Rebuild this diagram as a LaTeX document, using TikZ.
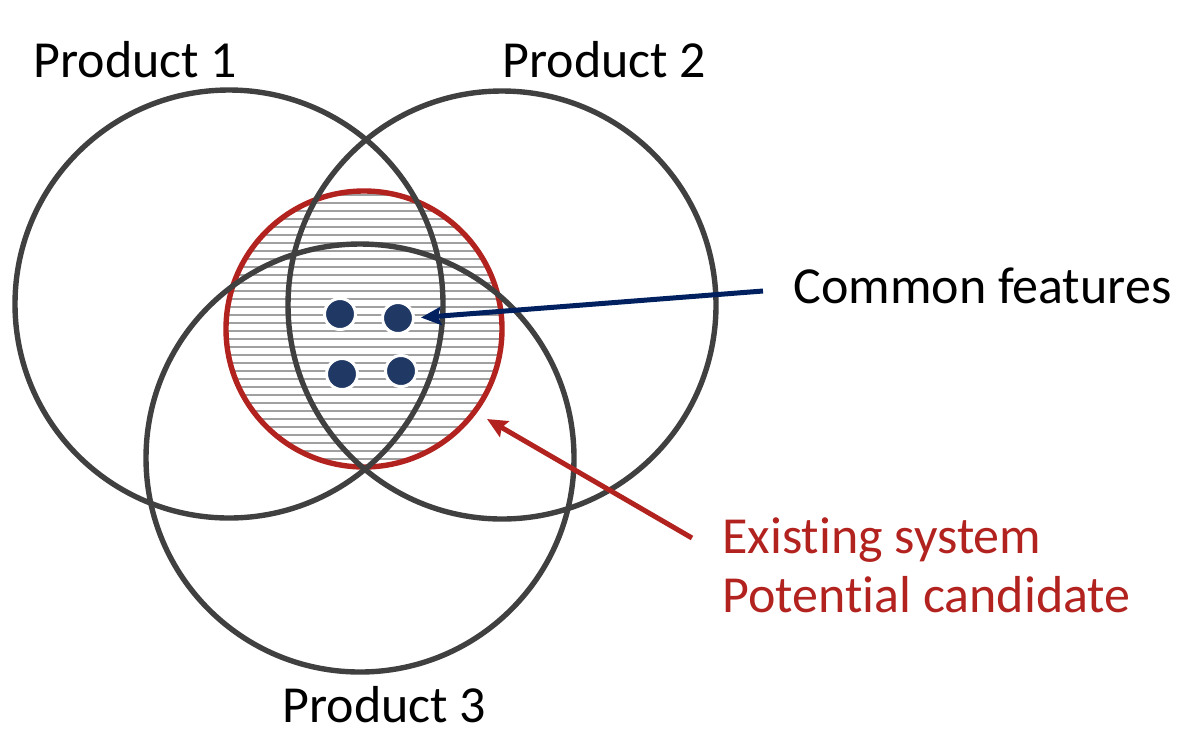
\documentclass[tikz,border=0pt]{standalone}
\usepackage{fontspec}
\setmainfont[Ligatures=NoCommon]{Carlito}
\usepackage{tikz}
\usetikzlibrary{arrows.meta,positioning,shapes.geometric}

\definecolor{ringgray}{RGB}{64,64,64}
\definecolor{hatchgray}{RGB}{160,160,160}
\definecolor{candred}{RGB}{178,34,30}
\definecolor{featblue}{RGB}{0,32,96}
\definecolor{dotblue}{RGB}{32,56,100}

\tikzset{
  product/.style={circle,draw=ringgray,line width=2.7pt,inner sep=0pt,minimum size=#1},
  bigtext/.style={anchor=base west,inner sep=0pt,font=\fontsize{26}{29.5}\selectfont},
  feature/.style={circle,fill=dotblue,draw=white,line width=1.5pt,inner sep=0pt,minimum size=15.5pt},
  pointer/.style={line width=2.5pt,-{Stealth[length=10pt,width=9pt,inset=1.5pt]}}
}

\begin{document}
\begin{tikzpicture}[x=0.5pt,y=0.5pt,yscale=-1,xscale=1]
\useasboundingbox (0,0) rectangle (1186,740);

%Shape: hatched candidate area
\begin{scope}
\clip (364,329) circle [radius=69pt];
\foreach \y in {195,203,...,475}
  \draw [hatchgray,line width=1pt] (220,\y) -- (510,\y);
\end{scope}
%Shape: candidate circle
\node [circle,draw=candred,line width=2.7pt,inner sep=0pt,minimum size=138pt] (cand) at (364,329) {};

%Shape: product circles
\node [product=214pt] (p1) at (229,304) {};
\node [product=214pt] (p2) at (502,305) {};
\node [product=214pt] (p3) at (360,458) {};

%Shape: common feature dots
\node [feature] (f1) at (340,314) {};
\node [feature] (f2) at (398,318) {};
\node [feature] (f3) at (342,374) {};
\node [feature] (f4) at (401,371) {};

% Text Node
\node [bigtext] (t1) at (33,77) {Product 1};
% Text Node
\node [bigtext] (t2) at (502,77) {Product 2};
% Text Node
\node [bigtext] (t3) at (282,722) {Product 3};
% Text Node
\node [bigtext] (tc) at (793,303) {Common features};
% Text Node
\node [bigtext,text=candred,align=left] (te) at (722,612) {Existing system\\Potential candidate};

%Straight Lines
\coordinate (cstart) at (763,291);
\coordinate (estart) at (692,538);
\coordinate (etip) at (487,419);
\draw [pointer,featblue,shorten >=3pt] (cstart) -- (f2.east);
\draw [pointer,candred] (estart) -- (etip);

\end{tikzpicture}
\end{document}
